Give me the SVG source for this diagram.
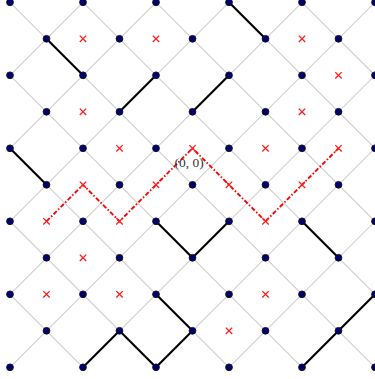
<svg xmlns="http://www.w3.org/2000/svg" width="375" height="379" viewBox="0 0 375 379">
<style>
.grid{stroke:#cfcfcf;stroke-width:1.1;fill:none;stroke-linecap:round}
.path{stroke:#000;stroke-width:2.1;fill:none;stroke-linecap:round;stroke-linejoin:round}
.walk{stroke:#ff0000;stroke-width:1.9;fill:none;stroke-dasharray:4.5 2 1.5 2}
.pt{fill:#000070;stroke:#111;stroke-width:0.9}
.cross{stroke:#ff1a1a;stroke-width:1.3;fill:none}
.lbl{font-family:"Liberation Serif","DejaVu Serif",serif;font-size:13.5px;fill:#333}
</style>
<defs>
<circle id="d" r="3.4" class="pt"/>
<path id="x" d="M-3.2,-3.2L3.2,3.2M-3.2,3.2L3.2,-3.2" class="cross"/>
</defs>
<rect width="375" height="379" fill="#fff"/>
<g id="grid-lines" class="grid">
<line x1="10" y1="294.3" x2="83" y2="367.3"/>
<line x1="10" y1="221.3" x2="156" y2="367.3"/>
<line x1="10" y1="148.3" x2="229" y2="367.3"/>
<line x1="10" y1="75.3" x2="302" y2="367.3"/>
<line x1="10" y1="2.3" x2="375" y2="367.3"/>
<line x1="83" y1="2.3" x2="375" y2="294.3"/>
<line x1="156" y1="2.3" x2="375" y2="221.3"/>
<line x1="229" y1="2.3" x2="375" y2="148.3"/>
<line x1="302" y1="2.3" x2="375" y2="75.3"/>
<line x1="10" y1="75.3" x2="83" y2="2.3"/>
<line x1="10" y1="148.3" x2="156" y2="2.3"/>
<line x1="10" y1="221.3" x2="229" y2="2.3"/>
<line x1="10" y1="294.3" x2="302" y2="2.3"/>
<line x1="10" y1="367.3" x2="375" y2="2.3"/>
<line x1="83" y1="367.3" x2="375" y2="75.3"/>
<line x1="156" y1="367.3" x2="375" y2="148.3"/>
<line x1="229" y1="367.3" x2="375" y2="221.3"/>
<line x1="302" y1="367.3" x2="375" y2="294.3"/>
</g>
<g id="connectors" class="path">
<polyline points="46.5,38.8 83,75.3"/>
<polyline points="119.5,111.8 156,75.3"/>
<polyline points="229,2.3 265.5,38.8"/>
<polyline points="192.5,111.8 229,75.3"/>
<polyline points="10,148.3 46.5,184.8"/>
<polyline points="156,221.3 192.5,257.8 229,221.3"/>
<polyline points="302,221.3 338.5,257.8"/>
<polyline points="156,294.3 192.5,330.8 156,367.3 119.5,330.8 83,367.3"/>
<polyline points="302,367.3 338.5,330.8 375,294.3"/>
</g>
<g id="walk">
<polyline class="walk" points="46.5,221.3 83,184.8 119.5,221.3 156,184.8 192.5,148.3 229,184.8 265.5,221.3 302,184.8 338.5,148.3"/>
</g>
<g id="points">
<use href="#d" x="10" y="2.3"/><use href="#d" x="83" y="2.3"/><use href="#d" x="156" y="2.3"/><use href="#d" x="229" y="2.3"/><use href="#d" x="302" y="2.3"/><use href="#d" x="375" y="2.3"/>
<use href="#d" x="46.5" y="38.8"/><use href="#d" x="119.5" y="38.8"/><use href="#d" x="192.5" y="38.8"/><use href="#d" x="265.5" y="38.8"/><use href="#d" x="338.5" y="38.8"/>
<use href="#d" x="10" y="75.3"/><use href="#d" x="83" y="75.3"/><use href="#d" x="156" y="75.3"/><use href="#d" x="229" y="75.3"/><use href="#d" x="302" y="75.3"/><use href="#d" x="375" y="75.3"/>
<use href="#d" x="46.5" y="111.8"/><use href="#d" x="119.5" y="111.8"/><use href="#d" x="192.5" y="111.8"/><use href="#d" x="265.5" y="111.8"/><use href="#d" x="338.5" y="111.8"/>
<use href="#d" x="10" y="148.3"/><use href="#d" x="83" y="148.3"/><use href="#d" x="156" y="148.3"/><use href="#d" x="229" y="148.3"/><use href="#d" x="302" y="148.3"/><use href="#d" x="375" y="148.3"/>
<use href="#d" x="46.5" y="184.8"/><use href="#d" x="119.5" y="184.8"/><use href="#d" x="192.5" y="184.8"/><use href="#d" x="265.5" y="184.8"/><use href="#d" x="338.5" y="184.8"/>
<use href="#d" x="10" y="221.3"/><use href="#d" x="83" y="221.3"/><use href="#d" x="156" y="221.3"/><use href="#d" x="229" y="221.3"/><use href="#d" x="302" y="221.3"/><use href="#d" x="375" y="221.3"/>
<use href="#d" x="46.5" y="257.8"/><use href="#d" x="119.5" y="257.8"/><use href="#d" x="192.5" y="257.8"/><use href="#d" x="265.5" y="257.8"/><use href="#d" x="338.5" y="257.8"/>
<use href="#d" x="10" y="294.3"/><use href="#d" x="83" y="294.3"/><use href="#d" x="156" y="294.3"/><use href="#d" x="229" y="294.3"/><use href="#d" x="302" y="294.3"/><use href="#d" x="375" y="294.3"/>
<use href="#d" x="46.5" y="330.8"/><use href="#d" x="119.5" y="330.8"/><use href="#d" x="192.5" y="330.8"/><use href="#d" x="265.5" y="330.8"/><use href="#d" x="338.5" y="330.8"/>
<use href="#d" x="10" y="367.3"/><use href="#d" x="83" y="367.3"/><use href="#d" x="156" y="367.3"/><use href="#d" x="229" y="367.3"/><use href="#d" x="302" y="367.3"/><use href="#d" x="375" y="367.3"/>
</g>
<g id="crosses">
<use href="#x" x="83" y="38.8"/><use href="#x" x="156" y="38.8"/><use href="#x" x="302" y="38.8"/>
<use href="#x" x="338.5" y="75.3"/>
<use href="#x" x="83" y="111.8"/><use href="#x" x="302" y="111.8"/>
<use href="#x" x="119.5" y="148.3"/><use href="#x" x="192.5" y="148.3"/><use href="#x" x="265.5" y="148.3"/><use href="#x" x="338.5" y="148.3"/>
<use href="#x" x="83" y="184.8"/><use href="#x" x="156" y="184.8"/><use href="#x" x="229" y="184.8"/><use href="#x" x="302" y="184.8"/>
<use href="#x" x="46.5" y="221.3"/><use href="#x" x="119.5" y="221.3"/><use href="#x" x="265.5" y="221.3"/>
<use href="#x" x="83" y="257.8"/>
<use href="#x" x="46.5" y="294.3"/><use href="#x" x="119.5" y="294.3"/><use href="#x" x="265.5" y="294.3"/>
<use href="#x" x="229" y="330.8"/>
</g>
<g id="origin-label">
<text class="lbl" x="174.5" y="167">(0, 0)</text>
</g>
</svg>
